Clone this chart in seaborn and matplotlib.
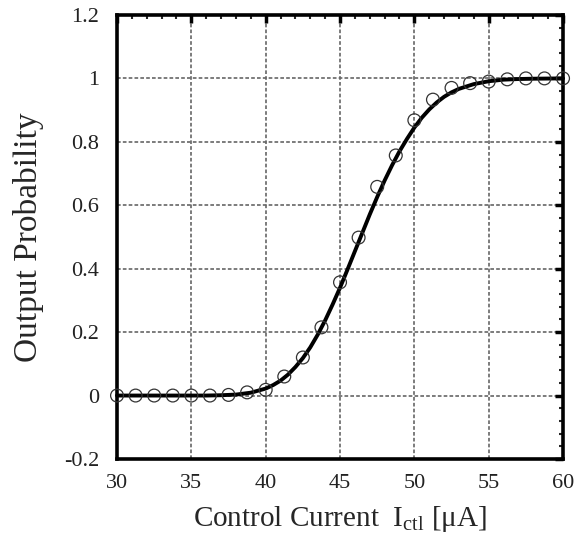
import numpy as np
import pandas as pd
import matplotlib
matplotlib.use("Agg")
import matplotlib.pyplot as plt
import seaborn as sns
from matplotlib.ticker import MultipleLocator

# Measured points
meas_x = [30, 31.25, 32.5, 33.75, 35, 36.25, 37.5, 38.75, 40, 41.25, 42.5, 43.75,
          45, 46.25, 47.5, 48.75, 50, 51.25, 52.5, 53.75, 55, 56.25, 57.5, 58.75, 60]
meas_y = [0.0, 0.0, 0.0, 0.0, 0.0, 0.0, 0.002, 0.01, 0.018, 0.06, 0.12, 0.215,
          0.357, 0.498, 0.658, 0.757, 0.868, 0.933, 0.97, 0.985, 0.99, 0.997, 1.0, 1.0, 1.0]

# Fitted curve
fit_x = [30, 32, 34, 36, 37, 38, 39, 40, 40.5, 41, 41.5, 42, 42.5, 43, 43.5, 44, 44.5,
         45, 45.5, 46, 46.5, 47, 47.5, 48, 48.5, 49, 49.5, 50, 50.5, 51, 51.5, 52,
         52.5, 53, 54, 55, 56, 57, 58, 60]
fit_y = [0.0, 0.0, 0.0, 0.0, 0.001, 0.003, 0.009, 0.022, 0.033, 0.047, 0.066, 0.09,
         0.118, 0.152, 0.192, 0.237, 0.287, 0.34, 0.397, 0.455, 0.513, 0.571, 0.626,
         0.678, 0.726, 0.77, 0.809, 0.845, 0.876, 0.902, 0.924, 0.942, 0.956, 0.967,
         0.982, 0.991, 0.996, 0.998, 0.999, 1.0]

x_ticks = [30, 35, 40, 45, 50, 55, 60]
y_ticks = [-0.2, 0, 0.2, 0.4, 0.6, 0.8, 1.0, 1.2]
y_tick_labels = ["-0.2", "0", "0.2", "0.4", "0.6", "0.8", "1", "1.2"]

sns.set_style("white")
plt.rcParams['font.family'] = ['Liberation Serif', 'DejaVu Serif']
plt.rcParams['mathtext.fontset'] = 'custom'
plt.rcParams['mathtext.rm'] = 'Liberation Serif'
plt.rcParams['mathtext.it'] = 'Liberation Serif:italic'

fig = plt.figure(figsize=(5.77, 5.5), dpi=100)
ax = fig.add_axes([0.2028, 0.1655, 0.773, 0.8073])

fit_df = pd.DataFrame({"x": fit_x, "y": fit_y})
meas_df = pd.DataFrame({"x": meas_x, "y": meas_y})

sns.lineplot(data=fit_df, x="x", y="y", ax=ax, color="black", linewidth=2.8,
             zorder=3, clip_on=False)
sns.scatterplot(data=meas_df, x="x", y="y", ax=ax, marker="o", s=85,
                facecolor="none", edgecolor="#333333", linewidth=0.9,
                zorder=4, clip_on=False)

ax.set_xlim(30, 60)
ax.set_ylim(-0.2, 1.2)
ax.set_xticks(x_ticks)
ax.set_yticks(y_ticks)
ax.set_yticklabels(y_tick_labels)
ax.xaxis.set_minor_locator(MultipleLocator(1))
ax.yaxis.set_minor_locator(MultipleLocator(0.04))

ax.grid(True, which="major", color="#666666", linestyle=(0, (2.2, 1.3)), linewidth=1.2)
ax.set_axisbelow(True)

for sp in ax.spines.values():
    sp.set_visible(True)
    sp.set_linewidth(2.6)
    sp.set_color("black")

ax.tick_params(which="major", direction="in", length=6, width=2.5,
               top=True, right=True, labelsize=16, colors="black")
ax.tick_params(axis="x", which="major", pad=11)
ax.tick_params(axis="y", which="major", pad=13)
ax.tick_params(which="minor", direction="in", length=3, width=1.5,
               top=True, right=True)
for lab in ax.get_xticklabels() + ax.get_yticklabels():
    lab.set_color("#222222")

ax.set_xlabel(r"Control Current  $\mathrm{I}_{\mathrm{ctl}}$ [μA]", fontsize=21, labelpad=8)
ax.set_ylabel("Output Probability", fontsize=24, labelpad=14)

fig.savefig("out.png", dpi=100)
